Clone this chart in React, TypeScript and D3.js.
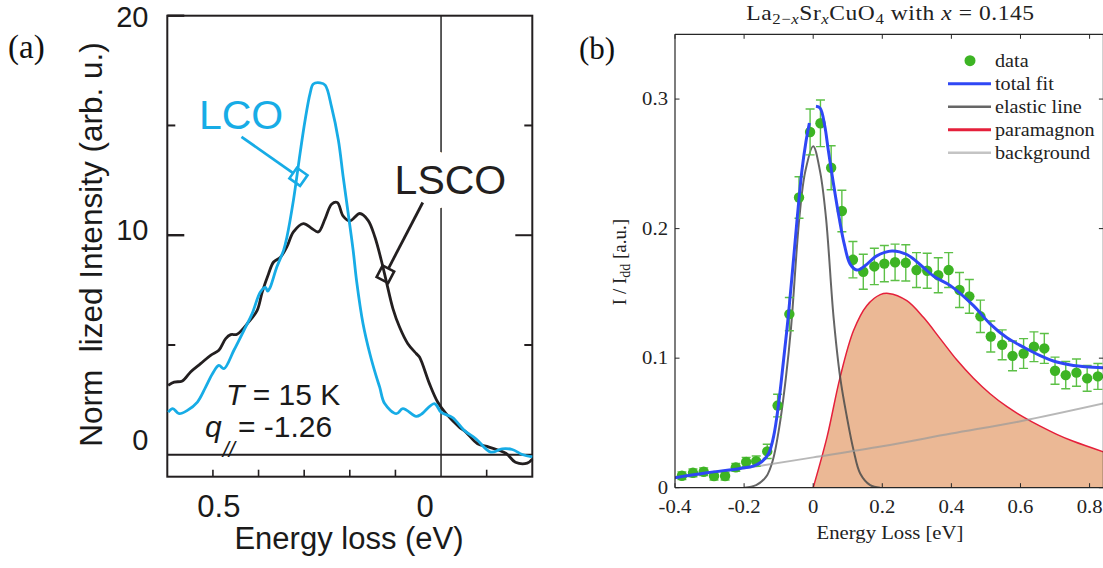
import React from "react";
import * as d3 from "d3";

// ---------- Panel (a) data ----------
const LCO_E = [0.598, 0.588, 0.574, 0.556, 0.534, 0.516, 0.501, 0.487, 0.476, 0.454, 0.432, 0.414, 0.396, 0.385, 0.38, 0.375, 0.36, 0.345, 0.338, 0.3235, 0.309, 0.298, 0.287, 0.28, 0.265, 0.254, 0.24, 0.225, 0.2145, 0.2035, 0.1927, 0.185, 0.171, 0.156, 0.1425, 0.1345, 0.1236, 0.098, 0.0837, 0.0545, 0.0436, 0.0146, 0, -0.0253, -0.0508, -0.0763, -0.109, -0.134, -0.156, -0.178, -0.2];
const LCO_I = [1.94, 2.1, 1.87, 2.02, 2.4, 3.08, 3.69, 4.07, 3.92, 4.76, 5.67, 6.43, 7.41, 7.62, 7.45, 7.6, 8.55, 9.32, 9.9, 11.6, 13.73, 15.24, 16.46, 16.89, 16.94, 16.84, 15.85, 14.33, 12.66, 10.99, 9.32, 7.9, 5.97, 4.6, 3.6, 3.08, 2.33, 1.87, 2.1, 1.75, 1.84, 2.33, 1.94, 1.69, 1.11, 0.73, 0.12, 0.27, 0.24, 0.01, -0.1];

const LSCO_E = [0.598, 0.585, 0.567, 0.549, 0.527, 0.505, 0.487, 0.472, 0.461, 0.447, 0.4215, 0.403, 0.392, 0.378, 0.367, 0.352, 0.338, 0.3235, 0.3017, 0.2833, 0.269, 0.254, 0.24, 0.2275, 0.2145, 0.2, 0.178, 0.16, 0.145, 0.131, 0.12, 0.1055, 0.091, 0.0728, 0.0545, 0.0473, 0.0255, 0.0074, -0.011, -0.04, -0.0545, -0.08, -0.105, -0.142, -0.163, -0.189, -0.2];
const LSCO_I = [3.16, 3.31, 3.36, 3.77, 4.15, 4.53, 4.76, 5.29, 5.47, 5.49, 6.05, 6.58, 7.41, 8.25, 8.78, 9.0, 9.47, 10.15, 10.53, 10.31, 10.15, 10.76, 11.41, 11.49, 10.87, 10.65, 10.99, 10.68, 9.92, 8.86, 7.9, 6.66, 5.82, 5.06, 4.61, 4.45, 3.24, 2.4, 1.87, 1.26, 1.03, 0.5, 0.35, 0.07, -0.34, -0.38, -0.2];

const A_X_TICKS = [0.5, 0.4, 0.3, 0.2, 0.1, -0.1];
const A_X_LABELS = [0.5, 0];
const A_Y_MINOR = [5, 15];
const A_Y_MAJOR = [10, 20];
const A_Y_LABELS = [0, 10, 20];

// annotation anchors (data coords): [labelE, labelI, lineStartE, lineStartI, anchorE, anchorI]
const LCO_NOTE = [0.5306, 14.82, 0.4374, 14.48, 0.3125, 12.66];
const LSCO_NOTE = [0.1018, 11.87, 0.0401, 11.49, 0.122, 8.22];

// ---------- Panel (b) data ----------
const DATA_E = [-0.38, -0.348, -0.317, -0.287, -0.255, -0.224, -0.194, -0.165, -0.133, -0.103, -0.069, -0.041, -0.009, 0.021, 0.052, 0.083, 0.115, 0.145, 0.177, 0.206, 0.237, 0.268, 0.299, 0.33, 0.362, 0.392, 0.4235, 0.452, 0.484, 0.514, 0.547, 0.577, 0.609, 0.639, 0.669, 0.7, 0.731, 0.762, 0.793, 0.824];
const DATA_I = [0.0092, 0.0115, 0.0123, 0.009, 0.009, 0.0157, 0.0198, 0.0205, 0.028, 0.0634, 0.134, 0.224, 0.2746, 0.2813, 0.247, 0.2136, 0.176, 0.1667, 0.1708, 0.173, 0.174, 0.1736, 0.168, 0.1675, 0.164, 0.168, 0.1526, 0.1477, 0.1323, 0.1167, 0.1103, 0.1018, 0.1036, 0.1088, 0.1075, 0.0903, 0.0869, 0.0888, 0.0844, 0.0859];
const DATA_ERR = [0.003, 0.003, 0.003, 0.003, 0.003, 0.003, 0.0036, 0.004, 0.0055, 0.0087, 0.0128, 0.016, 0.0177, 0.018, 0.017, 0.016, 0.014, 0.0135, 0.014, 0.014, 0.014, 0.014, 0.0135, 0.0135, 0.0135, 0.0135, 0.0135, 0.013, 0.0125, 0.012, 0.0115, 0.0115, 0.0115, 0.0115, 0.0115, 0.0105, 0.0105, 0.0105, 0.01, 0.01];

const FIT_LEFT_E = [-0.4, -0.308, -0.211, -0.173, -0.149, -0.129, -0.115, -0.1, -0.086, -0.0715, -0.059, -0.047, -0.033, -0.021, -0.011];
const FIT_LEFT_I = [0.0077, 0.0115, 0.0149, 0.0167, 0.02, 0.0264, 0.039, 0.065, 0.098, 0.134, 0.17, 0.206, 0.244, 0.267, 0.2815];
const FIT_RIGHT_E = [0.008, 0.02, 0.033, 0.044, 0.059, 0.075, 0.09, 0.107, 0.1265, 0.15, 0.184, 0.228, 0.271, 0.319, 0.35, 0.397, 0.464, 0.512, 0.561, 0.609, 0.657, 0.705, 0.753, 0.84];
const FIT_RIGHT_I = [0.2944, 0.293, 0.28, 0.26, 0.234, 0.2085, 0.188, 0.1726, 0.168, 0.1713, 0.179, 0.1828, 0.18, 0.17, 0.163, 0.156, 0.1405, 0.1265, 0.1157, 0.1085, 0.102, 0.097, 0.0944, 0.0926];

const ELASTIC_E = [-0.2, -0.165, -0.136, -0.117, -0.098, -0.079, -0.064, -0.04, -0.023, 0, 0.02, 0.037, 0.059, 0.078, 0.0975, 0.1168, 0.136, 0.165, 0.194];
const ELASTIC_I = [0, 0.002, 0.0085, 0.021, 0.047, 0.085, 0.124, 0.2085, 0.244, 0.2636, 0.244, 0.2085, 0.1315, 0.0854, 0.0546, 0.029, 0.011, 0.002, 0];

const PARA_E = [0, 0.04, 0.078, 0.1168, 0.155, 0.194, 0.218, 0.271, 0.319, 0.368, 0.416, 0.464, 0.512, 0.561, 0.609, 0.657, 0.705, 0.753, 0.84];
const PARA_I = [0, 0.039, 0.0854, 0.1213, 0.1405, 0.149, 0.15, 0.1444, 0.1315, 0.1149, 0.0985, 0.0845, 0.0725, 0.0625, 0.0545, 0.0475, 0.0412, 0.0358, 0.0277];

const BG_E = [-0.4, -0.2, 0, 0.2, 0.4, 0.6, 0.84];
const BG_I = [0.0075, 0.015, 0.0234, 0.032, 0.0418, 0.0513, 0.065];

const B_X_TICKS = [-0.4, -0.2, 0, 0.2, 0.4, 0.6, 0.8];
const B_Y_TICKS = [0, 0.1, 0.2, 0.3];

const LEGEND = ["data", "total fit", "elastic line", "paramagnon", "background"];

const zip = (a: number[], b: number[]) => a.map((v, i) => [v, b[i]] as [number, number]);

const SANS = "'Liberation Sans', Arial, Helvetica, sans-serif";
const SERIF = "'Liberation Serif', 'Times New Roman', serif";

const BLUE_A = "#17ace6";
const BLACK_A = "#231f20";
const BLUE_B = "#2f47f5";
const RED_B = "#e5203b";
const FILL_B = "#ebb895";
const GREEN = "#3db424";
const GREEN_ERR = "#5cc046";
const SX = 1.12; // horizontal stretch of panel (b) lettering

function SText({ x, y, anchor, fs, children, style }: any) {
  return (
    <text transform={`translate(${x},${y}) scale(${SX},1)`} textAnchor={anchor || "start"}
      fontFamily={SERIF} fontSize={fs} fill="#222" style={style}>{children}</text>
  );
}

function Diamond({ cx, cy, angle, s, color }: { cx: number; cy: number; angle: number; s: number; color: string }) {
  return (
    <rect x={-s / 2} y={-s / 2} width={s} height={s} fill="none" stroke={color} strokeWidth={2.6}
      transform={`translate(${cx},${cy}) rotate(${angle})`} />
  );
}

function Note({ note, color, xS, yS }: { note: number[]; color: string; xS: any; yS: any }) {
  const x0 = xS(note[2]), y0 = yS(note[3]);
  const x1 = xS(note[4]), y1 = yS(note[5]);
  const dx = x1 - x0, dy = y1 - y0;
  const len = Math.hypot(dx, dy);
  const s = 13;
  const ex = x1 - (dx / len) * (s / 2), ey = y1 - (dy / len) * (s / 2);
  const ang = (Math.atan2(dy, dx) * 180) / Math.PI;
  return (
    <g>
      <line x1={x0} y1={y0} x2={ex} y2={ey} stroke={color} strokeWidth={2.8} />
      <Diamond cx={x1} cy={y1} angle={ang} s={s} color={color} />
    </g>
  );
}

export default function App() {
  // ---------- Panel (a) ----------
  const xA = d3.scaleLinear().domain([0.6, -0.2]).range([167.3, 532.3]);
  const yA = d3.scaleLinear().domain([-1, 20]).range([476.7, 15.7]);
  const lineA = d3.line<[number, number]>().x(d => xA(d[0])).y(d => yA(d[1])).curve(d3.curveCatmullRom.alpha(0.5));
  const [aL, aR] = xA.range();
  const [aB, aT] = yA.range();

  // ---------- Panel (b) ----------
  const xB = d3.scaleLinear().domain([-0.4, 0.84]).range([675, 1103.4]);
  const yB = d3.scaleLinear().domain([0, 0.35]).range([487.7, 34.3]);
  const lineB = d3.line<[number, number]>().x(d => xB(d[0])).y(d => yB(d[1])).curve(d3.curveCatmullRom.alpha(0.5));
  const areaB = d3.area<[number, number]>().x(d => xB(d[0])).y0(yB(0)).y1(d => yB(d[1])).curve(d3.curveCatmullRom.alpha(0.5));
  const [bL, bR] = xB.range();
  const [bB, bT] = yB.range();
  const axisCol = "#262626";

  const legY0 = 60.7;
  const legDy = 23;

  return (
    <svg width={1103} height={568} style={{ position: "absolute", left: 0, top: 0, background: "#fff" }}>
      <rect x={0} y={0} width={1103} height={568} fill="#fff" />

      {/* ================= Panel (a) ================= */}
      <text x={8} y={58} fontFamily={SERIF} fontSize={33} fill="#111">(a)</text>

      <line x1={xA(0)} x2={xA(0)} y1={aT} y2={aB} stroke="#333" strokeWidth={1.6} />
      <line x1={aL} x2={aR} y1={yA(0)} y2={yA(0)} stroke={BLACK_A} strokeWidth={2} />

      <rect x={aL} y={aT} width={aR - aL} height={aB - aT} fill="none" stroke={BLACK_A} strokeWidth={2} />
      {A_Y_MINOR.map(v => (
        <g key={"ym" + v}>
          <line x1={aL} x2={aL + 8} y1={yA(v)} y2={yA(v)} stroke={BLACK_A} strokeWidth={2} />
          <line x1={aR - 8} x2={aR} y1={yA(v)} y2={yA(v)} stroke={BLACK_A} strokeWidth={2} />
        </g>
      ))}
      {A_Y_MAJOR.map(v => (
        <g key={"yM" + v}>
          <line x1={aL} x2={aL + 17} y1={yA(v)} y2={yA(v)} stroke={BLACK_A} strokeWidth={2.4} />
          {v < 20 && <line x1={aR - 17} x2={aR} y1={yA(v)} y2={yA(v)} stroke={BLACK_A} strokeWidth={2} />}
        </g>
      ))}
      {A_X_TICKS.map(v => (
        <line key={"xt" + v} x1={xA(v)} x2={xA(v)} y1={aB} y2={aB - 7} stroke={BLACK_A} strokeWidth={1.6} />
      ))}
      {A_Y_LABELS.map(v => (
        <text key={"yl" + v} x={148.5} y={yA(v) + (v === 20 ? 11 : v === 10 ? 4.5 : -4.5)} textAnchor="end"
          fontFamily={SANS} fontSize={29} fill="#1a1a1a">{v}</text>
      ))}
      {A_X_LABELS.map(v => (
        <text key={"xl" + v} x={xA(v) + (v === 0 ? -16 : 6)} y={517} textAnchor="middle"
          fontFamily={SANS} fontSize={31} fill="#1a1a1a">{v}</text>
      ))}
      <text x={349} y={549} textAnchor="middle" fontFamily={SANS} fontSize={31} fill="#1a1a1a">Energy loss (eV)</text>
      <text transform="translate(102,244.5) rotate(-90)" textAnchor="middle" fontFamily={SANS} fontSize={31.5} fill="#1a1a1a">
        {"Norm\u00a0\u00a0lized Intensity (arb. u.)"}
      </text>

      <text x={xA(LSCO_NOTE[0])} y={yA(LSCO_NOTE[1])} fontFamily={SANS} fontSize={41} fill={BLACK_A}
        stroke="#fff" strokeWidth={30} paintOrder="stroke" strokeLinejoin="round">LSCO</text>
      <text x={xA(LCO_NOTE[0])} y={yA(LCO_NOTE[1])} fontFamily={SANS} fontSize={41} fill={BLUE_A}>LCO</text>

      <path d={lineA(zip(LSCO_E, LSCO_I)) || ""} fill="none" stroke={BLACK_A} strokeWidth={2.8} strokeLinejoin="round" />
      <path d={lineA(zip(LCO_E, LCO_I)) || ""} fill="none" stroke={BLUE_A} strokeWidth={2.8} strokeLinejoin="round" />

      <Note note={LCO_NOTE} color={BLUE_A} xS={xA} yS={yA} />
      <Note note={LSCO_NOTE} color={BLACK_A} xS={xA} yS={yA} />

      <text x={226} y={405} fontFamily={SANS} fontSize={30} fill="#1a1a1a">
        <tspan fontStyle="italic">T</tspan> = 15 K
      </text>
      <text x={205} y={437} fontFamily={SANS} fontSize={30} fill="#1a1a1a">
        <tspan fontStyle="italic">q</tspan>
        <tspan dy={20} dx={1} fontSize={22} fontStyle="italic">//</tspan>
        <tspan dy={-20} dx={3}>= -1.26</tspan>
      </text>

      {/* ================= Panel (b) ================= */}
      <text x={579} y={59} fontFamily={SERIF} fontSize={31} fill="#111">(b)</text>
      <SText x={890.5} y={20} anchor="middle" fs={21} style={{ letterSpacing: "0.5px" }}>
        La<tspan fontSize={15} dy={4}>2−</tspan><tspan fontSize={15} fontStyle="italic">x</tspan>
        <tspan dy={-4}>Sr</tspan><tspan fontSize={15} dy={4} fontStyle="italic">x</tspan>
        <tspan dy={-4}>CuO</tspan><tspan fontSize={15} dy={4}>4</tspan>
        <tspan dy={-4}>{"\u00a0with\u00a0"}</tspan><tspan fontStyle="italic">x</tspan>
        <tspan>{"\u00a0=\u00a00.145"}</tspan>
      </SText>

      <defs>
        <clipPath id="clipB">
          <rect x={bL} y={bT} width={bR - bL} height={bB - bT} />
        </clipPath>
      </defs>

      <g clipPath="url(#clipB)">
        <path d={areaB(zip(PARA_E, PARA_I)) || ""} fill={FILL_B} stroke="none" />
        <path d={lineB(zip(PARA_E, PARA_I)) || ""} fill="none" stroke={RED_B} strokeWidth={1.5} />
        <path d={lineB(zip(ELASTIC_E, ELASTIC_I)) || ""} fill="none" stroke="#4a4a4a" strokeOpacity={0.85} strokeWidth={2} />
        <path d={lineB(zip(BG_E, BG_I)) || ""} fill="none" stroke="#9a9a9a" strokeOpacity={0.7} strokeWidth={2} />

        {DATA_E.map((e, i) => {
          const x = xB(e);
          const yt = yB(DATA_I[i] + DATA_ERR[i]);
          const yb = yB(DATA_I[i] - DATA_ERR[i]);
          return (
            <g key={"e" + i} stroke={GREEN_ERR} strokeWidth={1.4}>
              <line x1={x} x2={x} y1={yt} y2={yb} />
              <line x1={x - 4.5} x2={x + 4.5} y1={yt} y2={yt} />
              <line x1={x - 4.5} x2={x + 4.5} y1={yb} y2={yb} />
            </g>
          );
        })}
        {DATA_E.map((e, i) => (
          <circle key={"d" + i} cx={xB(e)} cy={yB(DATA_I[i])} r={5.2} fill={GREEN} />
        ))}

        <path d={lineB(zip(FIT_LEFT_E, FIT_LEFT_I)) || ""} fill="none" stroke={BLUE_B} strokeWidth={3} />
        <path d={lineB(zip(FIT_RIGHT_E, FIT_RIGHT_I)) || ""} fill="none" stroke={BLUE_B} strokeWidth={3} />
      </g>

      <line x1={bL} x2={bL} y1={bT} y2={bB} stroke={axisCol} strokeWidth={1.2} />
      <line x1={bL} x2={bR} y1={bB} y2={bB} stroke={axisCol} strokeWidth={1.2} />
      <line x1={bL} x2={bR} y1={bT} y2={bT} stroke={axisCol} strokeWidth={1.2} />
      <line x1={bR} x2={bR} y1={bT} y2={bB} stroke={axisCol} strokeWidth={1.2} />
      {B_X_TICKS.map(v => (
        <g key={"bx" + v}>
          <line x1={xB(v)} x2={xB(v)} y1={bB} y2={bB - 4.5} stroke={axisCol} strokeWidth={1} />
          <line x1={xB(v)} x2={xB(v)} y1={bT} y2={bT + 4.5} stroke={axisCol} strokeWidth={1} />
          <SText x={xB(v)} y={513} anchor="middle" fs={18.5}>
            {v === 0 ? "0" : d3.format(".1f")(v).replace("−", "-")}
          </SText>
        </g>
      ))}
      {B_Y_TICKS.map(v => (
        <g key={"by" + v}>
          <line x1={bL} x2={bL + 4.5} y1={yB(v)} y2={yB(v)} stroke={axisCol} strokeWidth={1} />
          <line x1={bR - 4.5} x2={bR} y1={yB(v)} y2={yB(v)} stroke={axisCol} strokeWidth={1} />
          <SText x={668} y={yB(v) + 6} anchor="end" fs={18.5}>
            {v === 0 ? "0" : d3.format(".1f")(v)}
          </SText>
        </g>
      ))}
      <SText x={890} y={539} anchor="middle" fs={18.5}>Energy Loss [eV]</SText>
      <text transform="translate(626,262) rotate(-90)" textAnchor="middle" fontFamily={SERIF} fontSize={19} fill="#222">
        I / I<tspan fontSize={14} dy={4}>dd</tspan><tspan dy={-4}>{"\u00a0[a.u.]"}</tspan>
      </text>

      <g>
        <circle cx={970} cy={legY0} r={5.5} fill={GREEN} />
        <line x1={948} x2={991} y1={legY0 + legDy} y2={legY0 + legDy} stroke={BLUE_B} strokeWidth={3} />
        <line x1={948} x2={991} y1={legY0 + 2 * legDy} y2={legY0 + 2 * legDy} stroke="#666" strokeWidth={2.6} />
        <line x1={948} x2={991} y1={legY0 + 3 * legDy} y2={legY0 + 3 * legDy} stroke={RED_B} strokeWidth={3} />
        <line x1={948} x2={991} y1={legY0 + 4 * legDy} y2={legY0 + 4 * legDy} stroke="#c4c4c4" strokeWidth={2.6} />
        {LEGEND.map((t, i) => (
          <SText key={t} x={995} y={legY0 + i * legDy + 6} fs={18}>{t}</SText>
        ))}
      </g>
    </svg>
  );
}
